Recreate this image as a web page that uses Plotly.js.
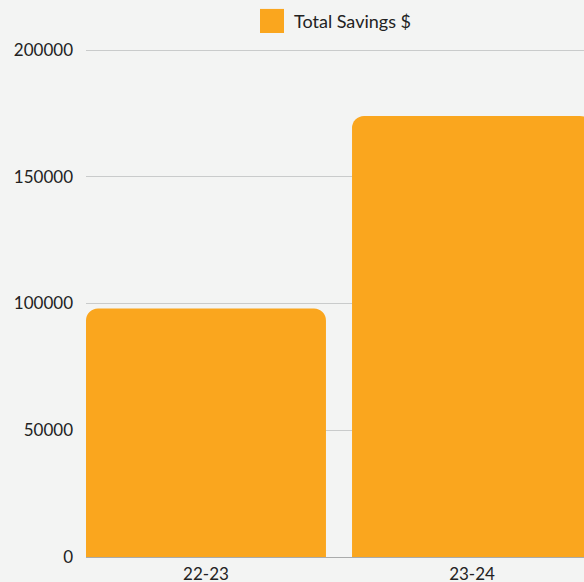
<!DOCTYPE html>
<html>
<head>
<meta charset="utf-8">
<script src="https://cdn.plot.ly/plotly-3.0.1.min.js"></script>
<style>html,body{margin:0;padding:0;background:#f3f4f3;}</style>
</head>
<body>
<div id="chart" style="width:584px;height:582px;"></div>
<script>
const categories = ["22-23", "23-24"];
const savings = [98000, 174000];
const seriesName = "Total Savings $";
const yTicks = [0, 50000, 100000, 150000, 200000];

const orange = "#faa61e";
const bg = "#f3f4f3";

const trace = {
  type: "bar",
  x: categories,
  y: savings,
  name: seriesName,
  marker: { color: orange, cornerradius: 12 },
  showlegend: false,
  hoverinfo: "x+y"
};

const layout = {
  width: 584,
  height: 582,
  margin: { l: 86, r: 0, t: 49, b: 25 },
  paper_bgcolor: bg,
  plot_bgcolor: bg,
  font: { family: "Lato, 'Open Sans', sans-serif", size: 17, color: "#222" },
  bargap: 0.098,
  xaxis: {
    type: "category",
    range: [-0.451, 1.421],
    showgrid: false,
    showline: false,
    zeroline: false,
    ticks: "",
    ticklabelstandoff: 5,
    tickfont: { size: 17, color: "#222" },
    automargin: false
  },
  yaxis: {
    range: [0, 200400],
    tickvals: yTicks,
    ticktext: yTicks.map(String),
    showgrid: true,
    gridcolor: "#c9cbcb",
    gridwidth: 1,
    zeroline: true,
    zerolinecolor: "#a9abab",
    zerolinewidth: 1,
    showline: false,
    ticks: "",
    ticklabelstandoff: 12,
    tickfont: { size: 17, color: "#222" },
    automargin: false
  },
  shapes: [{
    type: "rect", xref: "paper", yref: "paper",
    x0: 0.3494, x1: 0.3976, y0: 1.0315, y1: 1.0789,
    fillcolor: orange, line: { width: 0 }
  }],
  annotations: [{
    xref: "paper", yref: "paper",
    x: 0.4137, y: 1.0552, xanchor: "left", yanchor: "middle",
    text: seriesName, showarrow: false,
    font: { size: 18, color: "#222" }
  }]
};

Plotly.newPlot("chart", [trace], layout, { displayModeBar: false, staticPlot: true });
</script>
</body>
</html>
